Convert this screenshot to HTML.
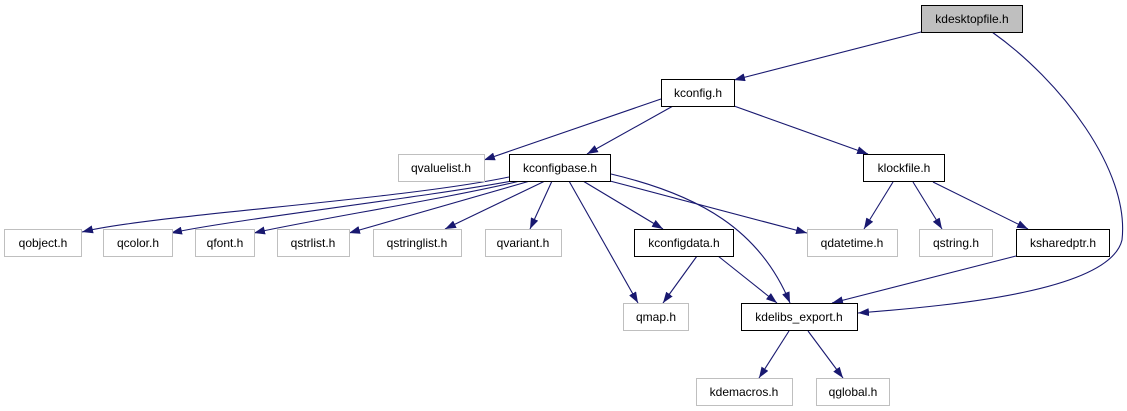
<!DOCTYPE html>
<html><head><meta charset="utf-8"><style>
html,body{margin:0;padding:0;background:#fff;}
svg{display:block;}
text{font-family:"Liberation Sans",Arial,sans-serif;font-size:12px;fill:#000;}
</style></head><body>
<svg width="1127" height="411" viewBox="0 0 1127 411" xmlns="http://www.w3.org/2000/svg">
<defs>
<marker id="a" markerWidth="11" markerHeight="8" refX="11" refY="4" orient="auto" markerUnits="userSpaceOnUse">
<path d="M0,0 L11,4 L0,8 z" fill="#191970"/>
</marker>
</defs>
<g fill="none" stroke="#191970" stroke-width="1.1" marker-end="url(#a)">
<path d="M921,32 L734,80"/>
<path d="M992,32 C1060,80 1130,170 1122,240 C1110,290 960,305 858,313"/>
<path d="M661,99 L484,160"/>
<path d="M673,106 L587,154"/>
<path d="M734,106 L868,154"/>
<path d="M509,177 C400,200 150,215 82,232"/>
<path d="M512,181 C420,198 230,220 171,233"/>
<path d="M520,181 C450,198 300,222 254,233"/>
<path d="M530,181 L349,233"/>
<path d="M545,181 L445,229"/>
<path d="M552,181 L530,229"/>
<path d="M569,181 L638,303"/>
<path d="M583,181 L663,229"/>
<path d="M610,181 L807,233"/>
<path d="M611,174 C700,195 760,230 790,303"/>
<path d="M697,256 L663,303"/>
<path d="M718,256 L777,303"/>
<path d="M893,182 L864,229"/>
<path d="M913,182 L942,229"/>
<path d="M933,182 L1028,229"/>
<path d="M1016,256 L832,303"/>
<path d="M789,331 L759,378"/>
<path d="M808,331 L843,378"/>
</g>
<g stroke-width="1">
<rect x="921.5" y="5.5" width="101" height="27" fill="#bfbfbf" stroke="#000"/>
<rect x="661.5" y="79.5" width="73" height="27" fill="#fff" stroke="#000"/>
<rect x="398.5" y="154.5" width="86" height="27" fill="#fff" stroke="#bfbfbf"/>
<rect x="509.5" y="154.5" width="101" height="27" fill="#fff" stroke="#000"/>
<rect x="863.5" y="154.5" width="81" height="27" fill="#fff" stroke="#000"/>
<rect x="4.5" y="229.5" width="77" height="27" fill="#fff" stroke="#bfbfbf"/>
<rect x="103.5" y="229.5" width="69" height="27" fill="#fff" stroke="#bfbfbf"/>
<rect x="195.5" y="229.5" width="59" height="27" fill="#fff" stroke="#bfbfbf"/>
<rect x="277.5" y="229.5" width="72" height="27" fill="#fff" stroke="#bfbfbf"/>
<rect x="373.5" y="229.5" width="88" height="27" fill="#fff" stroke="#bfbfbf"/>
<rect x="485.5" y="229.5" width="76" height="27" fill="#fff" stroke="#bfbfbf"/>
<rect x="634.5" y="229.5" width="99" height="27" fill="#fff" stroke="#000"/>
<rect x="807.5" y="229.5" width="90" height="27" fill="#fff" stroke="#bfbfbf"/>
<rect x="919.5" y="229.5" width="73" height="27" fill="#fff" stroke="#bfbfbf"/>
<rect x="1016.5" y="229.5" width="93" height="27" fill="#fff" stroke="#000"/>
<rect x="623.5" y="303.5" width="65" height="27" fill="#fff" stroke="#bfbfbf"/>
<rect x="741.5" y="303.5" width="116" height="27" fill="#fff" stroke="#000"/>
<rect x="696.5" y="378.5" width="96" height="27" fill="#fff" stroke="#bfbfbf"/>
<rect x="816.5" y="378.5" width="73" height="27" fill="#fff" stroke="#bfbfbf"/>
</g>
<g text-anchor="middle">
<text x="972" y="23">kdesktopfile.h</text>
<text x="698" y="97">kconfig.h</text>
<text x="441" y="172">qvaluelist.h</text>
<text x="560" y="172">kconfigbase.h</text>
<text x="904" y="172">klockfile.h</text>
<text x="43" y="247">qobject.h</text>
<text x="138" y="247">qcolor.h</text>
<text x="225" y="247">qfont.h</text>
<text x="313" y="247">qstrlist.h</text>
<text x="417" y="247">qstringlist.h</text>
<text x="523" y="247">qvariant.h</text>
<text x="684" y="247">kconfigdata.h</text>
<text x="852" y="247">qdatetime.h</text>
<text x="956" y="247">qstring.h</text>
<text x="1063" y="247">ksharedptr.h</text>
<text x="656" y="321">qmap.h</text>
<text x="799" y="321">kdelibs_export.h</text>
<text x="744" y="396">kdemacros.h</text>
<text x="853" y="396">qglobal.h</text>
</g>
</svg>
</body></html>
